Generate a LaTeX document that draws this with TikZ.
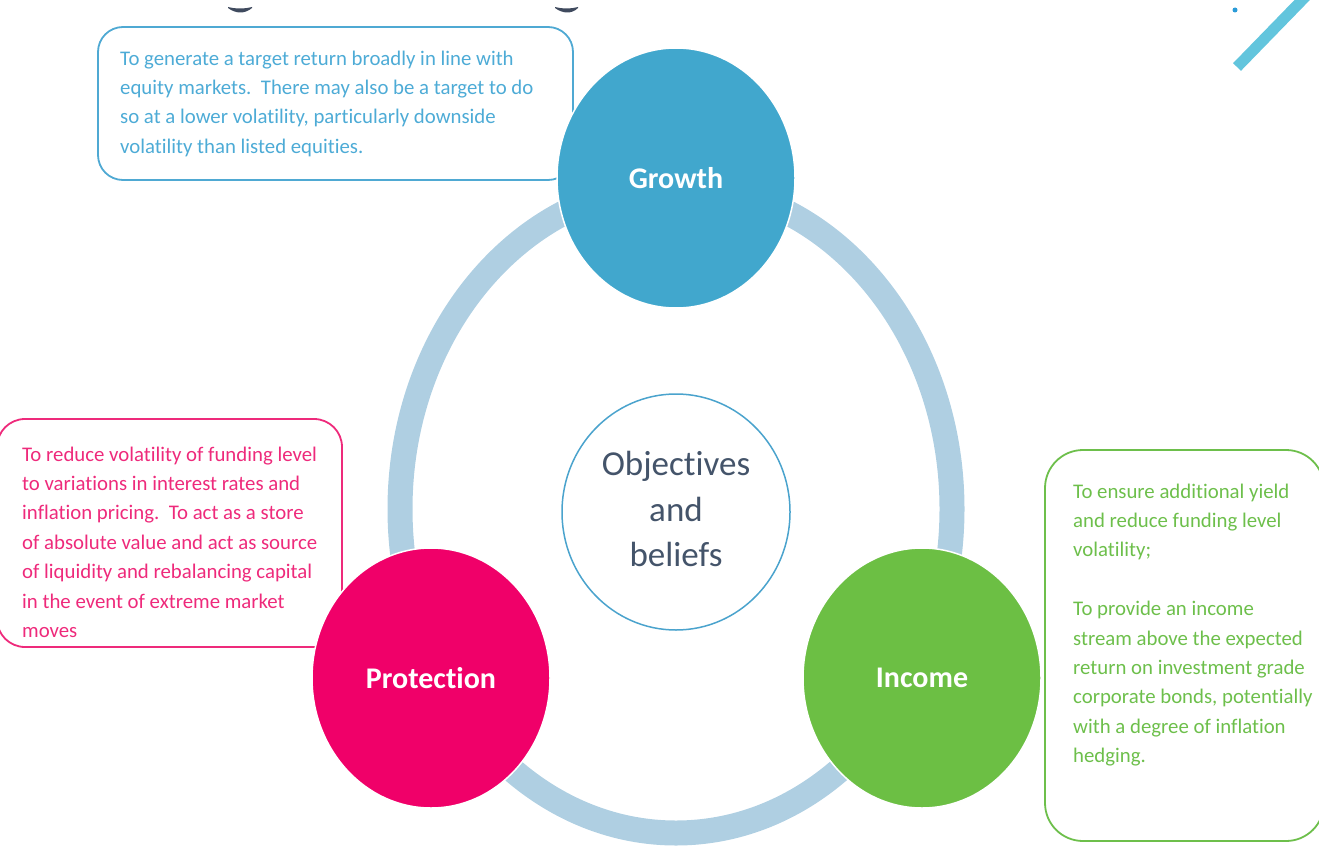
\documentclass[tikz,border=0pt]{standalone}
\usepackage{fontspec}
\setmainfont{Carlito}[Ligatures=NoCommon]
\usetikzlibrary{shapes.geometric}
\definecolor{ringblue}{HTML}{AFCFE2}
\definecolor{growthblue}{HTML}{41A7CD}
\definecolor{growthtext}{HTML}{4DABD6}
\definecolor{growthline}{HTML}{4FA9D3}
\definecolor{protpink}{HTML}{F00069}
\definecolor{prottext}{HTML}{EE2A7B}
\definecolor{incgreen}{HTML}{6CBF44}
\definecolor{inctext}{HTML}{6DBF4B}
\definecolor{objtext}{HTML}{44546A}
\definecolor{objline}{HTML}{4AA3CD}
\definecolor{tealbar}{HTML}{62C5DD}
\definecolor{dotblue}{HTML}{2A9BD8}
\definecolor{glyph}{HTML}{3F4A5E}
\begin{document}
\begin{tikzpicture}[x=1pt,y=-1pt,
  ring/.style={draw=ringblue, line width=25pt},
  bubble/.style={ellipse, draw=white, line width=1.5pt, minimum width=238pt, minimum height=260pt, inner sep=0pt, text=white, font=\fontsize{30}{36}\selectfont\bfseries},
  descbox/.style={rectangle, line width=1.8pt, anchor=north west, inner sep=0pt, outer sep=0pt},
  desctext/.style={anchor=north west, inner sep=0pt, align=left, font=\fontsize{20.8}{29.4}\selectfont},
]
\useasboundingbox (0,0) rectangle (1319,848);

% cropped fragments at the top edge
\fill[glyph] (228,8) .. controls (236,14) and (245,14) .. (252,8) -- (252,7) .. controls (244,9) and (236,9) .. (228,7) -- cycle;
\fill[glyph] (555,8) .. controls (563,14) and (572,14) .. (578,8) -- (578,7) .. controls (571,9) and (563,9) .. (555,7) -- cycle;
\fill[dotblue] (1235,10) circle (2.5pt);
\draw[tealbar, line width=11pt] (1237,67) -- (1308,-6);

% ring
\coordinate (ringc) at (676,509);
\draw[ring] (ringc) ellipse [x radius=276pt, y radius=324pt];

% description boxes
\node[descbox, draw=growthline, rounded corners=25pt, minimum width=475pt, minimum height=153pt] (gbox) at (98,27) {};
\node[descbox, draw=prottext, rounded corners=28pt, minimum width=345pt, minimum height=228pt] (pbox) at (-3,419) {};
\node[descbox, draw=inctext, rounded corners=38pt, minimum width=279pt, minimum height=391pt] (ibox) at (1045,450) {};

\node[desctext, text=growthtext] (gtext) at (120,44.4) {\strut To generate a target return broadly in line with\\
equity markets.\ \ There may also be a target to do\\
so at a lower volatility, particularly downside\\
volatility than listed equities.};

\node[desctext, text=prottext] (ptext) at (22,440.4) {\strut To reduce volatility of funding level\\
to variations in interest rates and\\
inflation pricing.\ \ To act as a store\\
of absolute value and act as source\\
of liquidity and rebalancing capital\\
in the event of extreme market\\
moves};

\node[desctext, text=inctext] (itext) at (1073,477.4) {\strut To ensure additional yield\\
and reduce funding level\\
volatility;\\[29.4pt]
To provide an income\\
stream above the expected\\
return on investment grade\\
corporate bonds, potentially\\
with a degree of inflation\\
hedging.};

% circles
\node[bubble, fill=growthblue] (growth) at (676,178) {Growth};
\node[bubble, fill=protpink] (protection) at (431,678) {Protection};
\node[bubble, fill=incgreen] (income) at (922,678) {Income};

\node[ellipse, draw=objline, fill=white, line width=1.5pt, minimum width=228pt, minimum height=236pt, inner sep=0pt, align=center, text=objtext, font=\fontsize{35}{45.5}\selectfont] (obj) at (676,512) {\strut Objectives\\and\\beliefs\strut};
\end{tikzpicture}
\end{document}
